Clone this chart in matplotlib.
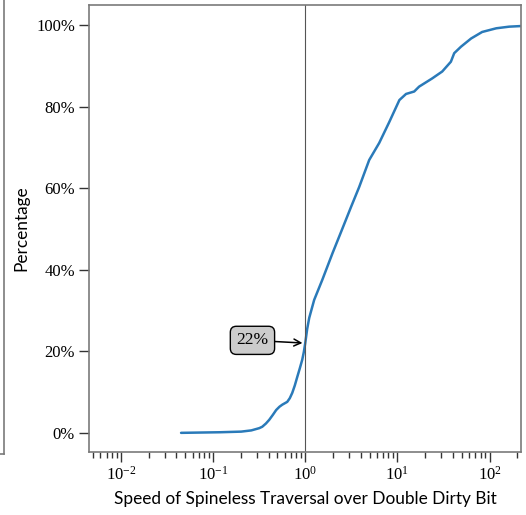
import matplotlib
import matplotlib.pyplot as plt
from matplotlib.lines import Line2D
from matplotlib.ticker import FixedLocator, LogLocator, NullFormatter
matplotlib.use('Agg')

# values (speedup on log x, cumulative percentage on y)
speedup = [0.045, 0.12, 0.202, 0.26, 0.317, 0.342, 0.375, 0.407, 0.445, 0.484,
           0.525, 0.563, 0.638, 0.68, 0.723, 0.77, 0.819, 0.87, 0.927, 0.965,
           1.0, 1.05, 1.105, 1.25, 1.53, 1.98, 2.45, 3.14, 3.85, 4.94,
           6.35, 8.15, 10.5, 12.4, 15.2, 17.2, 23.8, 30.6, 38.0, 41.3,
           49.0, 63.0, 83.0, 118.0, 163.0, 219.0]
cdf_pct = [0.0, 0.15, 0.3, 0.6, 1.15, 1.5, 2.3, 3.2, 4.4, 5.6,
           6.4, 6.9, 7.6, 8.5, 9.8, 11.6, 13.7, 15.7, 17.9, 19.8,
           22.0, 25.5, 28.2, 32.6, 37.5, 44.1, 49.3, 55.4, 60.3, 66.9,
           71.1, 76.2, 81.6, 83.1, 83.7, 84.9, 86.9, 88.6, 91.0, 93.1,
           94.7, 96.7, 98.3, 99.2, 99.6, 99.75]
y_ticks = [0, 20, 40, 60, 80, 100]
y_tick_labels = ['0%', '20%', '40%', '60%', '80%', '100%']
x_ticks = [0.01, 0.1, 1, 10, 100]
x_tick_labels = [r'$10^{-2}$', r'$10^{-1}$', r'$10^{0}$', r'$10^{1}$', r'$10^{2}$']
marker_x = 1.0
marker_pct = 22

plt.rcParams['mathtext.fontset'] = 'custom'
plt.rcParams['mathtext.rm'] = 'Liberation Serif'
plt.rcParams['mathtext.it'] = 'Liberation Serif:italic'

serif = 'Liberation Serif'
sans = 'Lato'
spine_col = '#7a7a7a'

fig = plt.figure(figsize=(5.26, 5.15), dpi=100)
ax = fig.add_axes([0.169, 0.1223, 0.8215, 0.8679])

ax.plot(speedup, cdf_pct, color='#2a7ab9', linewidth=1.8, solid_capstyle='round')
ax.set_xscale('log')
ax.set_xlim(min(speedup) / 10, max(speedup))
ax.set_ylim(-4.7, 104.9)

ax.axvline(marker_x, color='#555555', linewidth=0.8)
ax.annotate('%d%%' % marker_pct, xy=(marker_x, marker_pct), xytext=(-38, 2),
            textcoords='offset points', ha='center', va='center',
            fontfamily=serif, fontsize=12.5,
            bbox=dict(boxstyle='round,pad=0.35', fc='#cccccc', ec='black', lw=1),
            arrowprops=dict(arrowstyle='->', color='black', lw=1.1, shrinkA=0, shrinkB=2))

ax.xaxis.set_major_locator(FixedLocator(x_ticks))
ax.set_xticklabels(x_tick_labels)
ax.xaxis.set_minor_locator(LogLocator(base=10, subs=range(2, 10), numticks=20))
ax.xaxis.set_minor_formatter(NullFormatter())
ax.set_yticks(y_ticks)
ax.set_yticklabels(y_tick_labels)

for s in ax.spines.values():
    s.set_color(spine_col)
    s.set_linewidth(1.2)
ax.tick_params(axis='both', which='major', length=7, width=1, color='#333333',
               labelsize=12, pad=3)
ax.tick_params(axis='x', which='minor', length=4, width=1, color='#333333')
for lab in ax.get_xticklabels() + ax.get_yticklabels():
    lab.set_fontfamily(serif)

ax.set_xlabel('Speed of Spineless Traversal over Double Dirty Bit', fontfamily=sans,
              fontsize=12.4, labelpad=5)
ax.set_ylabel('Percentage', fontfamily=sans, fontsize=12.4, labelpad=5)

# edge of the neighbouring panel on the left
fig.add_artist(Line2D([3.5 / 526, 3.5 / 526], [1, 1 - 454 / 515], color=spine_col, lw=1.2))
fig.add_artist(Line2D([0, 3.5 / 526], [1 - 454 / 515, 1 - 454 / 515], color=spine_col, lw=1.2))

fig.savefig('out.png', dpi=100)
